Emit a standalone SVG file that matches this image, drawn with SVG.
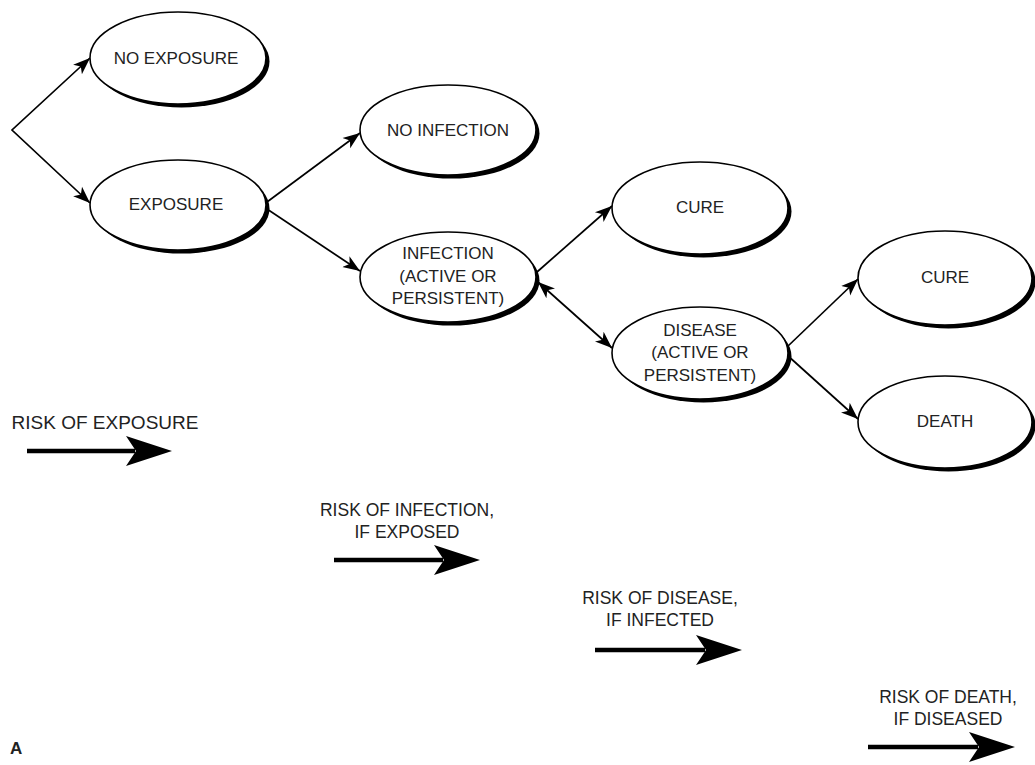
<svg xmlns="http://www.w3.org/2000/svg" width="1035" height="765" viewBox="0 0 1035 765">
<style>
.sh{fill:#000}
.el{fill:#fff;stroke:#000;stroke-width:1.6}
.t{font-family:"Liberation Sans",Arial,sans-serif;font-size:17px;fill:#222;text-anchor:middle}
.b{font-family:"Liberation Sans",Arial,sans-serif;font-size:17.5px;fill:#222;text-anchor:middle}
.c{fill:none;stroke:#000;stroke-width:1.7}
.big{fill:none;stroke:#000;stroke-width:4.5}
</style>
<defs>
<marker id="ah" markerUnits="userSpaceOnUse" markerWidth="18" markerHeight="16" viewBox="0 0 18 16" refX="17" refY="8" orient="auto-start-reverse">
<path d="M0,1.5 L17,8 L0,14.5 L4.5,8 Z" fill="#000"/>
</marker>
<path id="bh" d="M0,0 L-46,-15 L-36,0 L-46,15 Z"/>
</defs>
<rect width="1035" height="765" fill="#fff"/>
<g id="connectors">
<polyline class="c" points="90,58 12,130 90,203" marker-start="url(#ah)" marker-end="url(#ah)"/>
<line class="c" x1="267" y1="202" x2="360" y2="133" marker-end="url(#ah)"/>
<line class="c" x1="267" y1="209" x2="360" y2="271" marker-end="url(#ah)"/>
<line class="c" x1="537" y1="272" x2="612" y2="206" marker-end="url(#ah)"/>
<line class="c" x1="538" y1="282" x2="612" y2="348" marker-start="url(#ah)" marker-end="url(#ah)"/>
<line class="c" x1="787" y1="347" x2="858" y2="279" marker-end="url(#ah)"/>
<line class="c" x1="787" y1="355" x2="858" y2="419" marker-end="url(#ah)"/>
</g>
<g id="no-exposure"><ellipse class="sh" cx="181.5" cy="61.5" rx="88" ry="46"/><ellipse class="el" cx="178" cy="58" rx="88" ry="46"/><text class="t" x="176" y="64">NO EXPOSURE</text></g>
<g id="exposure"><ellipse class="sh" cx="181.5" cy="208.5" rx="88" ry="45"/><ellipse class="el" cx="178" cy="205" rx="88" ry="45"/><text class="t" x="176" y="210">EXPOSURE</text></g>
<g id="no-infection"><ellipse class="sh" cx="451.5" cy="133.5" rx="88" ry="45"/><ellipse class="el" cx="448" cy="130" rx="88" ry="45"/><text class="t" x="448" y="136">NO INFECTION</text></g>
<g id="infection"><ellipse class="sh" cx="451.5" cy="280.5" rx="88" ry="45"/><ellipse class="el" cx="448" cy="277" rx="88" ry="45"/><text class="t" x="448" y="259">INFECTION</text><text class="t" x="448" y="282">(ACTIVE OR</text><text class="t" x="448" y="304">PERSISTENT)</text></g>
<g id="cure1"><ellipse class="sh" cx="703.5" cy="211.5" rx="88" ry="46"/><ellipse class="el" cx="700" cy="208" rx="88" ry="46"/><text class="t" x="700" y="213">CURE</text></g>
<g id="disease"><ellipse class="sh" cx="703.5" cy="356.5" rx="88" ry="46"/><ellipse class="el" cx="700" cy="353" rx="88" ry="46"/><text class="t" x="700" y="336">DISEASE</text><text class="t" x="700" y="358">(ACTIVE OR</text><text class="t" x="700" y="381">PERSISTENT)</text></g>
<g id="cure2"><ellipse class="sh" cx="948.5" cy="281.5" rx="87" ry="47"/><ellipse class="el" cx="945" cy="278" rx="87" ry="47"/><text class="t" x="945" y="283">CURE</text></g>
<g id="death"><ellipse class="sh" cx="948.5" cy="425.5" rx="87" ry="46"/><ellipse class="el" cx="945" cy="422" rx="87" ry="46"/><text class="t" x="945" y="427">DEATH</text></g>
<g id="legend">
<text class="b" x="105" y="429" style="font-size:19px">RISK OF EXPOSURE</text>
<line class="big" x1="27" y1="451" x2="135" y2="451"/><use href="#bh" x="172" y="451"/>
<text class="b" x="407" y="516">RISK OF INFECTION,</text><text class="b" x="407" y="538">IF EXPOSED</text>
<line class="big" x1="334" y1="560" x2="443" y2="560"/><use href="#bh" x="480" y="560"/>
<text class="b" x="660" y="604">RISK OF DISEASE,</text><text class="b" x="660" y="626">IF INFECTED</text>
<line class="big" x1="595" y1="650" x2="705" y2="650"/><use href="#bh" x="742" y="650"/>
<text class="b" x="948" y="703">RISK OF DEATH,</text><text class="b" x="948" y="725">IF DISEASED</text>
<line class="big" x1="868" y1="747" x2="978" y2="747"/><use href="#bh" x="1015" y="747"/>
<text x="10" y="754" style="font-family:'Liberation Sans',Arial,sans-serif;font-size:17px;font-weight:bold;fill:#222">A</text>
</g>
</svg>
